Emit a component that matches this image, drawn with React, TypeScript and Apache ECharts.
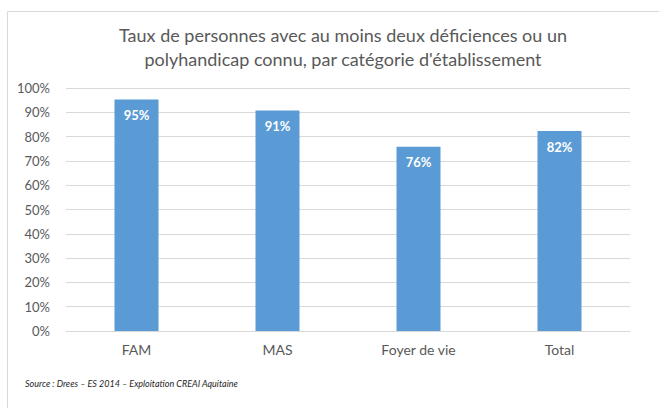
import React, { useEffect, useRef } from "react";
import * as echarts from "echarts";

const TITLE = "Taux de personnes avec au moins deux déficiences ou un\npolyhandicap connu, par catégorie d'établissement";
const SOURCE = "Source : Drees – ES 2014 – Exploitation CREAI Aquitaine";
const categories = ["FAM", "MAS", "Foyer de vie", "Total"];
const values = [0.953, 0.907, 0.758, 0.823];
const yTicks = [0, 0.1, 0.2, 0.3, 0.4, 0.5, 0.6, 0.7, 0.8, 0.9, 1.0];

const FONT = "Lato, 'Open Sans', sans-serif";

export default function App() {
  const ref = useRef<HTMLDivElement>(null);
  useEffect(() => {
    if (!ref.current) return;
    const chart = echarts.init(ref.current, null, { renderer: "svg" });
    chart.setOption({
      animation: false,
      backgroundColor: "#ffffff",
      textStyle: { fontFamily: FONT },
      title: {
        text: TITLE,
        left: 338,
        top: 18,
        textAlign: "center",
        textStyle: {
          fontFamily: FONT,
          fontSize: 18,
          fontWeight: "normal",
          color: "#595959",
          lineHeight: 24,
        },
      },
      graphic: [
        {
          type: "rect",
          shape: { x: 7.5, y: 11.5, width: 700, height: 500 },
          style: { fill: "none", stroke: "#d9d9d9", lineWidth: 1 },
          silent: true,
          z: -10,
        },
        {
          type: "text",
          x: 25,
          y: 379,
          style: {
            text: SOURCE,
            font: "italic 9px " + FONT,
            fill: "#262626",
          },
        },
      ],
      grid: { left: 66, right: 29, top: 88, bottom: 77, containLabel: false },
      xAxis: {
        type: "category",
        data: categories,
        axisLine: { show: true, lineStyle: { color: "#d9d9d9", width: 1 } },
        axisTick: { show: false },
        axisLabel: { color: "#595959", fontSize: 14, margin: 11, fontFamily: FONT },
      },
      yAxis: {
        type: "value",
        min: 0,
        max: 1,
        interval: 0.1,
        axisLine: { show: false },
        axisTick: { show: false },
        splitLine: { lineStyle: { color: "#d9d9d9", width: 1 } },
        axisLabel: {
          color: "#595959",
          fontSize: 13,
          margin: 16,
          fontFamily: FONT,
          formatter: (v: number) => {
            const t = yTicks.find((x) => Math.abs(x - v) < 1e-6);
            return Math.round((t ?? v) * 100) + "%";
          },
        },
      },
      series: [
        {
          type: "bar",
          data: values,
          barWidth: 44,
          itemStyle: { color: "#5b9bd5" },
          label: {
            show: true,
            position: "insideTop",
            distance: 9,
            color: "#ffffff",
            fontWeight: "bold",
            fontSize: 13,
            fontFamily: FONT,
            formatter: (p: any) => Math.round(p.value * 100) + "%",
          },
        },
      ],
    });
    return () => chart.dispose();
  }, []);
  return (
    <div
      ref={ref}
      style={{ position: "fixed", left: 0, top: 0, width: 659, height: 408 }}
    />
  );
}
